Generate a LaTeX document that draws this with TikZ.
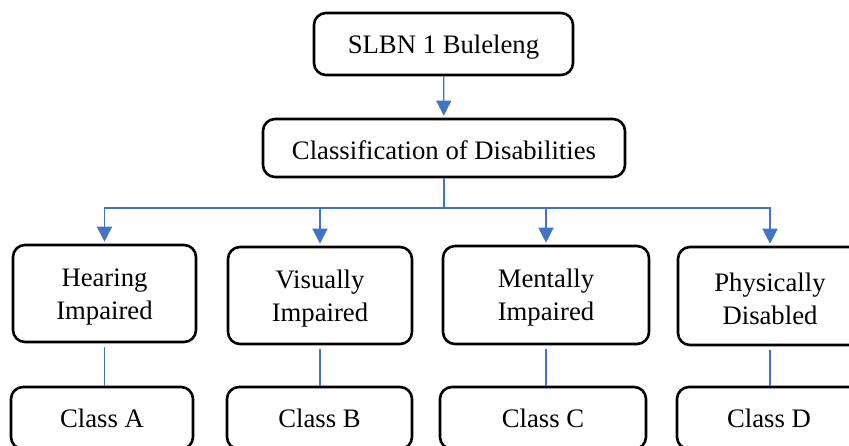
\documentclass[tikz,border=0pt]{standalone}
\usepackage{fontspec}
\setmainfont{Liberation Serif}
\usepackage{xcolor}
\usetikzlibrary{arrows.meta}
\definecolor{linkblue}{RGB}{68,114,196}

\begin{document}
\begin{tikzpicture}[x=1pt,y=-1pt,
    box/.style = {draw, line width=2.6pt, rounded corners=12pt, inner sep=0pt,
                  align=center, font=\fontsize{26.7}{33}\selectfont},
    oneline/.style = {box, text height=24pt},
    twoline/.style = {box, text height=57pt},
    link/.style = {draw=linkblue, line width=1.3pt},
    tip/.style = {-{Triangle[length=15pt,width=15pt]}, shorten >=2pt}
    ]
    \clip (0,0) rectangle (849,445);
    \node[oneline, minimum width=259pt, minimum height=62pt] (school) at (443.5,44) {SLBN 1 Buleleng};
    \node[oneline, minimum width=362pt, minimum height=58pt] (classif) at (444,148) {Classification of Disabilities};
    \node[twoline, minimum width=183pt, minimum height=97pt] (hearing) at (104.5,293.5) {Hearing\\Impaired};
    \node[twoline, minimum width=184pt, minimum height=97pt] (visual) at (320,295.5) {Visually\\Impaired};
    \node[twoline, minimum width=206pt, minimum height=98pt] (mental) at (546,295) {Mentally\\Impaired};
    \node[twoline, minimum width=184pt, minimum height=98pt] (physical) at (770,296) {Physically\\Disabled};
    \node[box, minimum width=182pt, minimum height=62pt] (classA) at (102,418) {Class A};
    \node[box, minimum width=185pt, minimum height=62pt] (classB) at (319.5,418) {Class B};
    \node[box, minimum width=206pt, minimum height=62pt] (classC) at (543,418) {Class C};
    \node[box, minimum width=184pt, minimum height=62pt] (classD) at (769,418) {Class D};
    \coordinate (fork) at (444,208);

    \draw[link, tip] (school) -- (classif);
    \draw[link] (classif) -- (fork);
    \draw[link, tip] (fork) -| (hearing);
    \draw[link, tip] (fork) -| (visual);
    \draw[link, tip] (fork) -| (mental);
    \draw[link, tip] (fork) -| (physical);
    \draw[link, shorten <=4pt] (hearing.south) -- (hearing.south |- classA.north);
    \draw[link, shorten <=4pt] (visual.south) -- (visual.south |- classB.north);
    \draw[link, shorten <=4pt] (mental.south) -- (mental.south |- classC.north);
    \draw[link, shorten <=4pt] (physical.south) -- (physical.south |- classD.north);
\end{tikzpicture}
\end{document}
